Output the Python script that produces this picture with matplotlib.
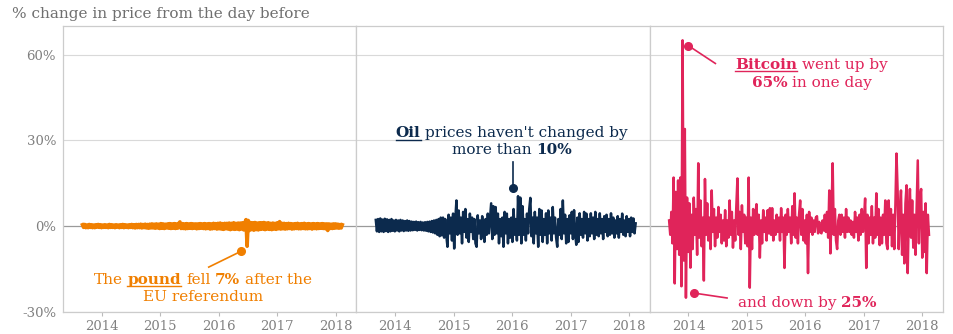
import matplotlib
matplotlib.use("Agg")
import matplotlib.pyplot as plt
import matplotlib.dates as mdates
from matplotlib.lines import Line2D
import pandas as pd
from datetime import datetime

# ---------------- data (weekly readings, Sep 2013 - Feb 2018, % change) ----------------
dates = pd.date_range("2013-09-02", "2018-02-12", freq="W-MON")

pound = [0.5, -0.4, 0.6, -0.5, 0.4, -0.5, 0.6, -0.4, 0.5, -0.5,
         0.4, -0.5, 0.5, -0.3, 0.6, -0.4, 0.5, -0.5, 0.4, -0.4,
         0.5, -0.4, 0.4, -0.5, 0.6, -0.4, 0.5, -0.4, 0.4, -0.5,
         0.5, -0.3, 0.4, -0.5, 0.5, -0.4, 0.6, -0.5, 0.5, -0.4,
         0.4, -0.5, 0.5, -0.4, 0.6, -0.5, 0.5, -0.6, 0.6, -0.5,
         0.6, -0.5, 0.7, -0.6, 0.6, -0.5, 0.7, -0.6, 0.6, -0.7,
         0.7, -0.6, 0.8, -0.6, 0.7, -0.7, 0.8, -0.6, 0.7, -0.8,
         0.9, -0.7, 0.8, -0.8, 0.7, -0.6, 0.8, -0.7, 0.9, -0.8,
         0.8, -0.7, 0.9, -0.8, 0.8, -0.7, 1.0, 1.5, -0.8, 0.9,
         -0.8, 0.8, -0.9, 0.9, -0.8, 0.8, -0.7, 0.9, -0.8, 0.8,
         -0.7, 0.8, -0.9, 0.8, -0.8, 0.9, -0.7, 0.8, -0.8, 0.9,
         -0.9, 0.8, -0.8, 0.9, -1.0, 0.8, -0.9, 1.0, -0.8, 0.9,
         -1.0, 1.0, -0.9, 1.1, -1.0, 0.9, -1.1, 1.0, -0.9, 1.0,
         -1.0, 1.1, -1.2, 1.0, -1.0, 1.2, -1.1, 1.0, -1.0, 1.1,
         -1.2, 1.1, -1.0, 1.2, -1.3, 1.2, 2.3, -7.0, 2.0, -1.5,
         1.3, -1.2, 1.2, -1.4, 1.3, -1.2, 1.1, -1.3, 1.2, -1.1,
         1.2, -1.0, 1.3, -1.2, 1.1, -1.0, 1.2, -1.1, 1.0, -1.2,
         1.1, -1.0, 1.0, -1.1, 1.2, -0.9, 1.6, -1.0, 1.0, -0.9,
         1.0, -1.0, 0.9, -0.9, 1.0, -0.8, 0.9, -1.0, 0.8, -0.9,
         0.9, -0.8, 1.0, -0.9, 0.8, -0.9, 0.9, -0.8, 1.0, -0.9,
         0.8, -0.9, 0.9, -0.8, 0.8, -1.0, 0.9, -0.8, 0.8, -0.9,
         0.9, -0.8, 0.8, -0.7, 0.9, -0.8, 0.8, -0.9, 0.8, -1.5,
         0.8, -0.8, 0.7, -0.8, 0.8, -0.7, 0.8, -0.6, 0.7, -0.7,
         0.6, -0.6, 0.5]

oil = [2.2, -1.8, 2.5, -2.0, 2.7, -1.8, 2.3, -2.0, 2.6, -1.7,
       2.4, -2.0, 2.2, -1.8, 2.5, -1.6, 2.0, -1.8, 2.2, -1.5,
       2.0, -1.8, 2.2, -1.5, 2.0, -1.7, 1.8, -1.5, 2.0, -1.6,
       1.8, -1.5, 1.6, -1.4, 1.5, -1.3, 1.6, -1.5, 1.4, -1.3,
       1.5, -1.4, 1.3, -1.5, 1.4, -1.6, 1.5, -1.8, 1.6, -2.0,
       1.8, -2.2, 2.0, -2.5, 2.2, -3.0, 2.5, -3.5, 3.0, -3.2,
       3.0, -4.0, 2.5, -3.5, -7.2, 4.0, -2.5, 3.0, -5.0, 4.4,
       -7.8, 2.5, 9.0, -3.0, 5.5, -2.5, 3.0, -6.0, 5.0, -2.0,
       6.0, -4.0, 2.5, -5.5, 4.4, -2.0, 3.0, -4.5, 2.5, -6.0,
       -7.2, 3.8, -2.5, 2.0, -4.5, 3.5, -2.0, -5.5, 2.5, -3.0,
       4.4, -2.5, 3.0, 8.0, -4.5, 7.0, -3.0, 6.7, -2.5, 4.4,
       -6.0, 2.5, -3.5, 3.0, -7.2, 5.0, -2.5, 4.4, -6.0, 2.5,
       -4.0, 3.0, -5.5, 6.0, -3.0, 2.5, -5.0, 10.5, -3.0, 10.0,
       -6.0, 7.0, -3.0, 2.5, -5.0, 4.4, -2.5, 6.0, 9.9, -3.5,
       3.0, -6.0, 5.0, -2.5, 3.0, -7.2, 6.0, -3.0, 5.5, -5.5,
       2.5, -3.0, 4.5, -6.0, 5.5, -2.5, 3.0, -5.0, 6.7, -2.5,
       3.0, -4.0, -7.2, 2.5, -3.0, 6.0, -4.5, 9.0, -2.5, 4.0,
       -6.0, 2.5, -5.5, 3.8, -2.5, 5.0, -4.5, 5.6, -2.5, -6.5,
       3.0, -5.5, 4.5, -3.0, 2.5, -4.0, 5.0, -2.5, 4.4, -5.0,
       2.5, -3.5, 4.5, -2.5, 3.0, -4.5, 5.0, -3.0, 2.5, -3.5,
       4.5, -2.5, 2.5, -4.5, 3.5, -2.0, 4.0, -3.5, 2.5, -3.0,
       4.5, -2.5, 3.0, -4.0, 2.0, -2.5, 3.5, -4.0, 2.5, -2.0,
       4.4, -3.0, 2.0, -3.5, 3.5, -2.0, 2.5, -3.5, 3.0, -2.0,
       2.7, -2.5, 1.0]

bitcoin = [2.0, -3.0, 5.0, -6.0, 17.0, -20.0, 12.0, -8.0, 16.0, -10.0,
           17.0, -21.0, 65.0, -12.0, 34.0, -25.0, 10.0, -9.0, 8.0, -14.5,
           4.0, -8.0, 10.0, -3.0, 6.0, -10.0, 22.0, -4.0, 9.0, -7.0,
           3.0, -19.0, 16.5, -3.0, 8.0, -5.0, 3.0, -8.0, 12.5, -2.0,
           6.0, -7.0, 3.0, -4.0, 6.7, -2.0, 4.0, -6.0, 2.0, -5.0,
           5.6, -7.0, 2.0, -4.0, 9.0, -3.0, 5.0, -7.5, 2.0, -5.0,
           7.0, 16.7, -3.0, 5.0, -8.0, 7.3, -2.0, 4.0, -6.0, 3.0,
           -7.0, 17.0, -21.5, 3.0, -8.0, 6.0, -3.0, 4.0, 7.7, -3.0,
           4.0, -11.0, 2.0, -6.0, 5.6, -2.0, 3.0, -5.0, 5.6, -2.5,
           6.3, -3.0, 6.3, -5.0, 2.0, -3.0, 4.0, -2.0, 3.0, -5.0,
           6.3, -2.0, 3.0, -14.6, 4.0, -3.0, 6.0, -2.0, 3.0, -6.0,
           7.0, -3.0, 11.5, -4.0, 3.0, -6.0, 4.0, 9.0, -3.0, 6.0,
           -5.0, 2.0, -6.0, 4.0, -16.4, 5.0, -2.0, 3.0, -3.0, 2.0,
           -2.0, 3.0, 3.5, -2.5, 1.5, -2.0, -2.5, 2.0, -1.5, 4.0,
           -2.0, 5.0, -4.0, 12.5, -9.5, 4.0, 22.0, -3.0, 6.0, -5.0,
           -8.0, 2.0, 4.0, -3.0, 4.0, -2.0, 3.0, -4.0, 6.0, -2.0,
           3.0, -2.0, 2.0, -3.0, 1.5, -4.0, 5.0, -2.0, 3.0, -5.0,
           4.0, -3.0, 6.0, -2.0, 3.0, 9.7, -14.6, 4.0, -6.0, 3.0,
           -3.0, 7.0, -6.0, 3.0, -4.0, 11.5, -3.0, 6.0, -6.6, 3.0,
           -6.0, 4.0, -3.0, 9.0, -6.0, -8.0, 9.0, -3.0, 6.0, -7.0,
           4.0, -8.0, 7.0, 25.4, 12.5, -8.0, 5.0, 12.5, -10.0, 4.0,
           -13.0, 8.0, 14.3, -16.4, 5.0, 13.0, -4.0, 9.0, -7.5, 4.0,
           -10.0, 6.0, 23.0, -6.0, 10.0, 13.0, -11.0, 5.0, -9.0, 8.0,
           -16.4, 4.0, -3.0]

series = [pound, oil, bitcoin]
colors = ["#F07F00", "#0C2A4D", "#E0245A"]
widths_lw = [2.6, 1.8, 1.8]
year_ticks = [2014, 2015, 2016, 2017, 2018]
y_ticks = [-30, 0, 30, 60]
y_labels = ["-30%", "0%", "30%", "60%"]

# ---------------- figure ----------------
W, H = 954, 334
fig = plt.figure(figsize=(W / 100, H / 100), dpi=100)
SERIF = "DejaVu Serif"
GRAY_TXT = "#808080"

left, right, bottom, top = 63 / W, 943 / W, 1 - 312 / H, 1 - 26 / H
pw = (right - left) / 3
axes = []
for k in range(3):
    ax = fig.add_axes([left + k * pw, bottom, pw, top - bottom])
    axes.append(ax)


def yr(f):
    y = int(f)
    return mdates.date2num(datetime(y, 1, 1)) + (f - y) * 365.25


for k, ax in enumerate(axes):
    ax.set_xlim(yr(2013.335), yr(2018.355))
    ax.set_ylim(-30, 70)
    for v in [30, 60, -30]:
        ax.axhline(v, color="#d9d9d9", lw=0.8, zorder=0)
    ax.axhline(0, color="#9a9a9a", lw=0.9, zorder=1)
    ax.plot(dates, series[k], color=colors[k], lw=widths_lw[k], zorder=3)
    for s in ax.spines.values():
        s.set_color("#cccccc")
        s.set_linewidth(0.9)
    ax.set_xticks([yr(y) for y in year_ticks])
    ax.set_xticklabels([str(y) for y in year_ticks], fontsize=9.5,
                       color=GRAY_TXT, family=SERIF)
    ax.tick_params(axis="x", length=3, color="#bbbbbb", pad=3)
    ax.set_yticks(y_ticks)
    if k == 0:
        ax.set_yticklabels(y_labels, fontsize=9.5, color=GRAY_TXT, family=SERIF)
        ax.tick_params(axis="y", length=0, pad=5)
    else:
        ax.set_yticklabels([])
        ax.tick_params(axis="y", length=0)

fig.text(12 / W, 1 - 18 / H, "% change in price from the day before",
         fontsize=11, color="#6f6f6f", family=SERIF, va="baseline")

fig.canvas.draw()
renderer = fig.canvas.get_renderer()


def tw(s, bold, size):
    t = fig.text(0, 0, s, fontsize=size, family=SERIF,
                 fontweight="bold" if bold else "normal")
    w = t.get_window_extent(renderer).width
    t.remove()
    return w


def rich_line(ax, xd, yd, segs, color, size):
    """segs: list of (text, bold, underline, space_after)"""
    xp, yp = ax.transData.transform((xd, yd))
    sp = tw("a a", False, size) - tw("aa", False, size)
    widths = [tw(s, b, size) for s, b, u, a in segs]
    total = sum(widths) + sp * sum(1 for s in segs if s[3])
    x = xp - total / 2
    for (s, b, u, a), w in zip(segs, widths):
        fig.text(x / W, yp / H, s, fontsize=size, family=SERIF, color=color,
                 fontweight="bold" if b else "normal", va="baseline", ha="left")
        if u:
            fig.add_artist(Line2D([x / W, (x + w) / W], [(yp - 2.5) / H] * 2,
                                  transform=fig.transFigure, color=color, lw=1.0))
        x += w + (sp if a else 0)


def pointer(ax, p_dot, p_end, color):
    ax.plot([yr(p_dot[0]), yr(p_end[0])], [p_dot[1], p_end[1]], color=color,
            lw=1.2, zorder=4, clip_on=False)
    ax.plot([yr(p_dot[0])], [p_dot[1]], "o", color=color, ms=5.5, zorder=5,
            clip_on=False)


FS = 11
# pound
a = axes[0]
c = colors[0]
rich_line(a, yr(2015.73), -20.2, [("The", False, False, True), ("pound", True, True, True),
                                   ("fell", False, False, True), ("7%", True, False, True),
                                   ("after the", False, False, False)], c, FS)
rich_line(a, yr(2015.73), -26.2, [("EU referendum", False, False, False)], c, FS)
pointer(a, (2016.39, -8.7), (2015.83, -14.3), c)

# oil
a = axes[1]
c = colors[1]
rich_line(a, yr(2016.0), 31.1, [("Oil", True, True, True),
                                 ("prices haven't changed by", False, False, False)], c, FS)
rich_line(a, yr(2016.0), 25.1, [("more than", False, False, True), ("10%", True, False, False)], c, FS)
pointer(a, (2016.02, 13.3), (2016.02, 22.3), c)

# bitcoin
a = axes[2]
c = colors[2]
rich_line(a, yr(2016.11), 55.0, [("Bitcoin", True, True, True),
                                  ("went up by", False, False, False)], c, FS)
rich_line(a, yr(2016.11), 48.6, [("65%", True, False, True), ("in one day", False, False, False)], c, FS)
pointer(a, (2014.0, 63.1), (2014.46, 56.9), c)
rich_line(a, yr(2016.03), -28.3, [("and down by", False, False, True), ("25%", True, False, False)], c, FS)
pointer(a, (2014.1, -23.4), (2014.66, -25.1), c)

fig.savefig("out.png", dpi=100)
